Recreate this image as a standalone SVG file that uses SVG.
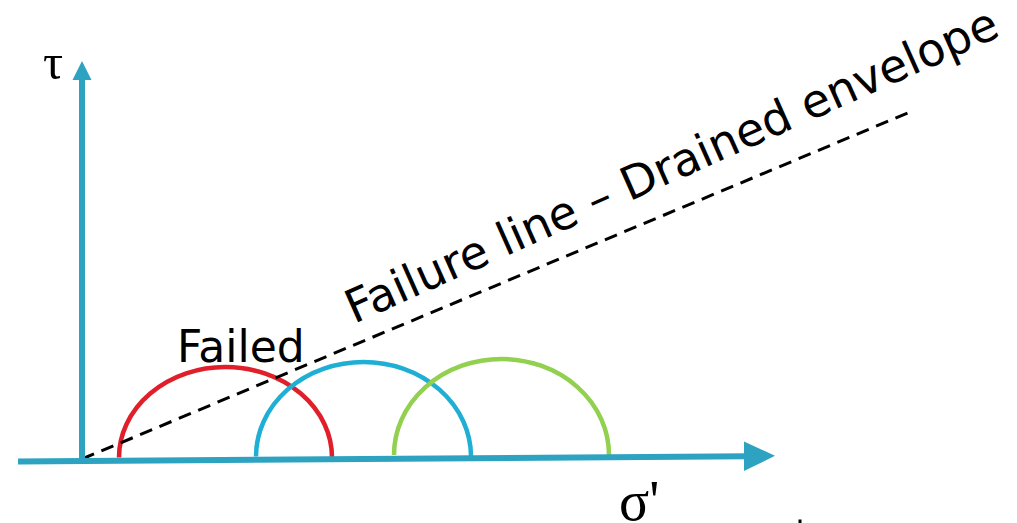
<svg xmlns="http://www.w3.org/2000/svg" width="1017" height="523" viewBox="0 0 1017 523">
  <style>
    .axis { stroke: #2da2c1; stroke-width: 6; fill: none; }
    .head { fill: #2da2c1; stroke: none; }
    .arc { fill: none; stroke-width: 4.5; }
    .sans { font-family: "DejaVu Sans", "Liberation Sans", sans-serif; fill: #000; }
    .serif { font-family: "Liberation Serif", "DejaVu Serif", serif; fill: #000; }
  </style>
  <rect width="1017" height="523" fill="#fff"/>
  <g id="circles">
    <path id="circle-red" class="arc" stroke="#e01f2a" d="M 119 457.5 A 106.5 90.5 0 0 1 332 457.5"/>
    <path id="circle-blue" class="arc" stroke="#1fafd4" d="M 256 456.5 A 107.5 94.5 0 0 1 471 456.5"/>
    <path id="circle-green" class="arc" stroke="#92d050" d="M 394 455 A 107.5 96 0 0 1 609 455"/>
  </g>
  <g id="connectors">
    <line id="failure-line" x1="82" y1="459" x2="910" y2="112" stroke="#000" stroke-width="3" stroke-dasharray="13 8"/>
    <line id="tau-axis" class="axis" x1="82" y1="462" x2="82" y2="76"/>
    <polygon class="head" points="82,61 72.5,80 91.5,80"/>
    <line id="sigma-axis" class="axis" x1="18" y1="461.5" x2="748" y2="456.3"/>
    <polygon class="head" points="775,455.8 744,441.5 744,471"/>
  </g>
  <g id="labels">
    <text id="tau-label" class="serif" x="43" y="79" font-size="50">τ</text>
    <text id="sigma-label" class="serif" x="619" y="520" font-size="56">σ'</text>
    <text id="failed-label" class="sans" x="177" y="362" font-size="44">Failed</text>
    <text id="failure-line-label" class="sans" x="0" y="0" font-size="46" transform="translate(354 324) rotate(-24)">Failure line – Drained envelope</text>
    <rect x="798.5" y="519.5" width="3" height="3.5" fill="#000"/>
  </g>
</svg>
